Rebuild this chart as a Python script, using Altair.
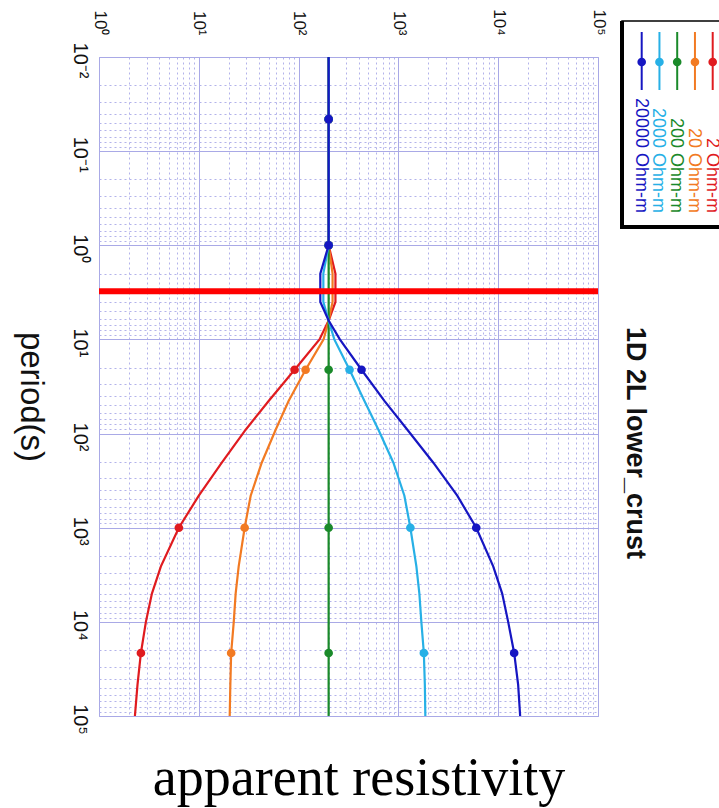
import json
import altair as alt
import pandas as pd

# ---------------- data ----------------
periods = [0.01, 0.0457, 1.0, 2.0, 4.0, 6.3, 10.0, 21.0, 45.0, 91.0, 204.0,
           457.0, 1000.0, 2570.0, 5010.0, 10000.0, 21400.0, 46800.0, 100000.0]
rho_2 = [200, 200, 200, 234, 234, 200, 162, 91.2, 50.1, 29.5, 17.0, 10.0, 6.31,
         4.17, 3.39, 2.95, 2.63, 2.43, 2.29]
rho_20 = [200, 200, 200, 219, 219, 200, 178, 117.5, 79.4, 58.9, 42.7, 33.1, 28.8,
          25.1, 23.4, 22.4, 21.1, 20.7, 20.4]
rho_200 = [200, 200, 200, 200, 200, 200, 200, 200, 200, 200, 200, 200, 200,
           200, 200, 200, 200, 200, 200]
rho_2000 = [200, 200, 200, 177, 177, 200, 228, 324, 457, 631, 891, 1148, 1318,
            1514, 1622, 1698, 1799, 1841, 1862]
rho_20000 = [200, 200, 200, 165, 165, 200, 259, 427, 724, 1230, 2239, 3890, 6026,
             8913, 10965, 12589, 14454, 15849, 16596]

series_names = ["2 Ohm-m", "20 Ohm-m", "200 Ohm-m", "2000 Ohm-m", "20000 Ohm-m"]
series_colors = ["#e01b1f", "#f27a22", "#1a8a2a", "#27b0e6", "#1616c2"]
series_values = [rho_2, rho_20, rho_200, rho_2000, rho_20000]
marker_periods = [0.0457, 1.0, 21.0, 1000.0, 21400.0]

x_tick_values = [1, 10, 100, 1000, 10000, 100000]
x_tick_labels = ["10\u2070", "10\u00b9", "10\u00b2", "10\u00b3", "10\u2074", "10\u2075"]
y_tick_values = [0.01, 0.1, 1, 10, 100, 1000, 10000, 100000]
y_tick_labels = ["10\u207b\u00b2", "10\u207b\u00b9", "10\u2070", "10\u00b9", "10\u00b2",
                 "10\u00b3", "10\u2074", "10\u2075"]
cut_period = [3.08]

title_text = "1D 2L lower_crust"
y_title = "period(s)"
x_title = "apparent resistivity"

# ---------------- build tables ----------------
rows = []
for k, (name, vals) in enumerate(zip(series_names, series_values)):
    for i, (p, r) in enumerate(zip(periods, vals)):
        rows.append({"series": name, "k": k, "i": i, "period": p, "rho": r,
                     "marker": p in marker_periods})
df = pd.DataFrame(rows)

x_minor = [m * 10 ** e for e in range(0, 5) for m in range(2, 10)]
y_minor = [m * 10.0 ** e for e in range(-2, 5) for m in range(2, 10)]

xs = alt.Scale(type="log", domain=[1, 100000], nice=False)
ys = alt.Scale(type="log", domain=[0.01, 100000], nice=False, reverse=True)

GRID = "#a9a9e6"
MINOR = "#b3b3ea"
FONT = "Liberation Sans"

x_expr = json.dumps(x_tick_labels, ensure_ascii=False) + "[round(log(datum.value)/LN10)]"
y_expr = json.dumps(y_tick_labels, ensure_ascii=False) + "[round(log(datum.value)/LN10)+2]"

minor_grid = alt.Chart(df).mark_point(opacity=0).encode(
    x=alt.X("rho:Q", scale=xs, axis=alt.Axis(
        orient="top", values=x_minor, grid=True, gridDash=[2, 3], gridColor=MINOR,
        gridWidth=1, labels=False, ticks=False, domain=False, title=None)),
    y=alt.Y("period:Q", scale=ys, axis=alt.Axis(
        orient="left", values=y_minor, grid=True, gridDash=[2, 3], gridColor=MINOR,
        gridWidth=1, labels=False, ticks=False, domain=False, title=None)),
)

major_grid = alt.Chart(df).mark_point(opacity=0).encode(
    x=alt.X("rho:Q", scale=xs, axis=alt.Axis(
        orient="top", values=x_tick_values, grid=True, gridColor=GRID, gridWidth=1,
        ticks=False, domain=False, title=None, labelExpr=x_expr, labelAngle=90,
        labelAlign="right", labelBaseline="middle", labelPadding=22, labelFlush=False,
        labelOverlap=False, labelFont=FONT, labelFontSize=17, labelColor="#111")),
    y=alt.Y("period:Q", scale=ys, axis=alt.Axis(
        orient="left", values=y_tick_values, grid=True, gridColor=GRID, gridWidth=1,
        ticks=False, domain=False, title=None, labelExpr=y_expr, labelAngle=90,
        labelAlign="center", labelBaseline="top", labelPadding=10, labelFlush=False,
        labelOffset=3, labelOverlap=False, labelFont=FONT, labelFontSize=20,
        labelColor="#111")),
)

layers = [minor_grid, major_grid]
for k, (name, color) in enumerate(zip(series_names, series_colors)):
    base = alt.Chart(df).transform_filter(alt.datum.k == k)
    layers.append(base.mark_line(color=color, strokeWidth=2.2).encode(
        x=alt.X("rho:Q", scale=xs, axis=None),
        y=alt.Y("period:Q", scale=ys, axis=None),
        order=alt.Order("i:Q"),
    ))
    layers.append(base.transform_filter(alt.datum.marker).mark_circle(
        color=color, size=75, opacity=1).encode(
        x=alt.X("rho:Q", scale=xs, axis=None),
        y=alt.Y("period:Q", scale=ys, axis=None),
    ))

layers.append(alt.Chart(pd.DataFrame({"period": cut_period})).mark_rule(
    color="#ff0000", strokeWidth=6).encode(y=alt.Y("period:Q", scale=ys, axis=None)))

# ---------------- legend (drawn rotated, like the reference) ----------------
one = pd.DataFrame({"t": [""]})
layers.append(alt.Chart(one).mark_rect(fill="white", stroke="black", strokeWidth=1.5).encode(
    x=alt.value(523), x2=alt.value(660), y=alt.value(-36), y2=alt.value(170)))
layers.append(alt.Chart(one).mark_rule(color="black", strokeWidth=4).encode(
    x=alt.value(523), y=alt.value(-36), y2=alt.value(171)))
layers.append(alt.Chart(one).mark_rule(color="black", strokeWidth=4).encode(
    x=alt.value(521), x2=alt.value(660), y=alt.value(170)))

leg_df = pd.DataFrame({"name": series_names, "k": list(range(len(series_names)))})
for k, (name, color) in enumerate(zip(series_names, series_colors)):
    lx = 613.7 - k * 17.75
    lb = alt.Chart(leg_df).transform_filter(alt.datum.k == k)
    layers.append(lb.mark_rule(color=color, strokeWidth=2).encode(
        x=alt.value(lx), y=alt.value(-25), y2=alt.value(33)))
    layers.append(lb.mark_circle(color=color, size=75, opacity=1).encode(
        x=alt.value(lx), y=alt.value(5)))
    layers.append(lb.mark_text(color=color, angle=90, align="right", baseline="middle",
                               font=FONT, fontSize=18).encode(
        x=alt.value(lx - 1), y=alt.value(156), text="name:N"))

# ---------------- titles ----------------
layers.append(alt.Chart(pd.DataFrame({"t": [title_text]})).mark_text(
    angle=90, align="center", baseline="middle", font=FONT, fontSize=27,
    fontWeight="bold", color="#111").encode(
    x=alt.value(536), y=alt.value(386), text="t:N"))
layers.append(alt.Chart(pd.DataFrame({"t": [y_title]})).mark_text(
    angle=90, align="center", baseline="middle", font=FONT, fontSize=33,
    color="#111").encode(x=alt.value(-68), y=alt.value(340), text="t:N"))
layers.append(alt.Chart(pd.DataFrame({"t": [x_title]})).mark_text(
    align="center", baseline="alphabetic", font="Liberation Serif", fontSize=54,
    color="black").encode(x=alt.value(260), y=alt.value(738), text="t:N"))

chart = alt.layer(*layers).resolve_axis(x="independent", y="independent").properties(
    width=499, height=659,
    autosize=alt.AutoSizeParams(type="none"),
    padding={"left": 99, "top": 57, "right": 121, "bottom": 92},
    background="white",
).configure_view(stroke=GRID, strokeWidth=1)

chart.save("out.html", embed_options={"renderer": "svg", "actions": False})
